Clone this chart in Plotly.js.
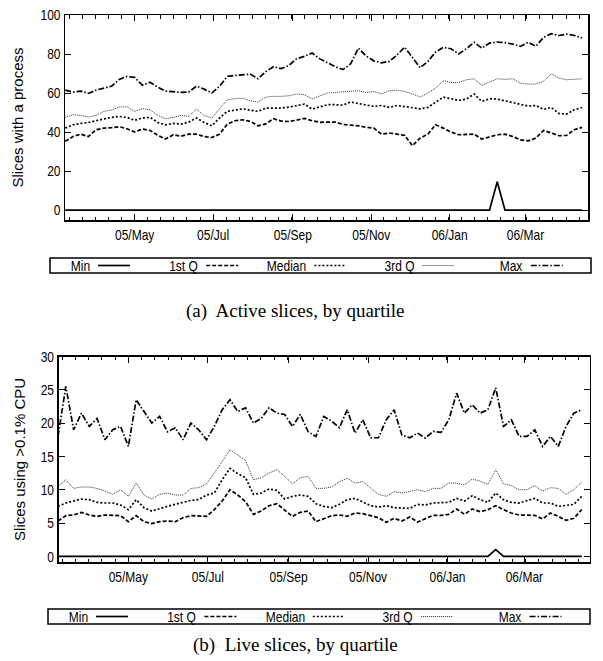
<!DOCTYPE html>
<html>
<head>
<meta charset="utf-8">
<script src="https://cdn.plot.ly/plotly-3.0.1.min.js"></script>
<style>
html,body{margin:0;padding:0;background:#fff;}
#chart{width:603px;height:661px;}
</style>
</head>
<body>
<div id="chart"></div>
<script>
// ---------- data ----------
const dates = ['2005-03-08','2005-03-14','2005-03-20','2005-03-26','2005-04-01','2005-04-07','2005-04-13','2005-04-19','2005-04-25','2005-05-01',
  '2005-05-07','2005-05-13','2005-05-19','2005-05-25','2005-05-31','2005-06-06','2005-06-12','2005-06-18','2005-06-24','2005-06-30',
  '2005-07-06','2005-07-12','2005-07-18','2005-07-24','2005-07-30','2005-08-05','2005-08-11','2005-08-17','2005-08-23','2005-08-29',
  '2005-09-04','2005-09-10','2005-09-16','2005-09-22','2005-09-28','2005-10-04','2005-10-10','2005-10-16','2005-10-22','2005-10-28',
  '2005-11-03','2005-11-09','2005-11-15','2005-11-21','2005-11-27','2005-12-03','2005-12-09','2005-12-15','2005-12-21','2005-12-27',
  '2006-01-02','2006-01-08','2006-01-14','2006-01-20','2006-01-26','2006-02-01','2006-02-07','2006-02-13','2006-02-19','2006-02-25',
  '2006-03-03','2006-03-09','2006-03-15','2006-03-21','2006-03-27','2006-04-02','2006-04-08','2006-04-14'];

const seriesNames = ['Min', '1st Q', 'Median', '3rd Q', 'Max'];

// (a) Active slices
const activeMin = [0,0,0,0,0,0,0,0,0,0, 0,0,0,0,0,0,0,0,0,0, 0,0,0,0,0,0,0,0,0,0, 0,0,0,0,0,0,0,0,0,0,
  0,0,0,0,0,0,0,0,0,0, 0,0,0,0,0,0,14.5,0,0,0, 0,0,0,0,0,0,0,0];
const activeQ1 = [35.2,37.7,38.9,37.7,41.2,42,42.2,42.7,41.7,40, 41.5,40.8,38.3,36.4,38.6,37.9,38.9,38.9,37.7,37.2,
  38.9,44,45.8,46.3,45.4,43.2,44.2,46.8,45.6,45.4, 46.1,47,45.8,45,45.1,45.1,43.9,43.6,43.2,42.4,
  42,38.9,39.5,38.9,38.3,33,36.9,38.9,43.7,42, 40,38.6,38.6,38.9,36.4,37.7,38.6,38.9,37.7,36,
  35.5,36.9,40.8,39.5,38.1,38.3,41.2,42.4];
const activeMedian = [42,43.7,44.4,44.9,45.8,46.8,47.5,48,47.5,46, 47.2,47.5,44.9,43.7,44.4,44.1,45.1,47.2,44.9,43.2,
  47.2,50.6,51.4,51.9,51.2,50.6,52.3,52.3,52.3,52.8, 53.5,54.3,51.8,53.1,54,54,53.8,55.4,54.7,54,
  53.1,53.6,52.6,53.6,53.1,52.6,51.9,52.6,55.4,57.9, 57.1,56.2,56.9,59.5,55.7,57.1,56.9,56,55,54.3,
  53.3,53.6,51.6,52.6,49.5,49.2,51.4,52.6];
const activeQ3 = [47.5,48.9,48.5,47.7,48.5,50.6,51.3,52.8,53,50.6, 52,51.4,48.5,46.8,47.5,48.5,48,51.8,48.5,47.1,
  52,56.5,57.1,57.4,56,55.4,57.9,58.3,58.3,58.6, 59.5,59.1,57,58.5,60,60.3,60.5,60.8,61.2,60.3,
  60.8,59.5,61.2,61.5,60.8,59.6,57.9,60,62.5,66.3, 65.4,65.4,66.8,67.3,63.9,65.6,67.3,67,67.3,65.1,
  64.6,64.6,66,69.9,67.7,66.8,67,67.3];
const activeMax = [61.5,60.5,61,59.8,61.5,62.5,63.5,67,68.5,68, 64,65.5,63,61,60.5,60.3,60.5,63.5,62,60,
  63.5,68.5,69,69.5,69.7,67.3,71,73.5,72.5,74.2, 77.6,78.8,80.5,77.5,75.4,73.5,72,75,83,79,
  76.5,75.5,76.2,79.5,83.5,78,73,76.2,81,83.4, 82.7,80,82.7,86,83,85.6,86.1,85.8,85.1,83.9,
  86,84,88.5,90.4,89.5,90.2,89.5,88.2];

// (b) Live slices
const liveMin = [0,0,0,0,0,0,0,0,0,0, 0,0,0,0,0,0,0,0,0,0, 0,0,0,0,0,0,0,0,0,0, 0,0,0,0,0,0,0,0,0,0,
  0,0,0,0,0,0,0,0,0,0, 0,0,0,0,0,0,1,0,0,0, 0,0,0,0,0,0,0,0];
const liveQ1 = [5.3,6.1,6.2,6.6,6.2,6,6.2,6.2,6.1,5.2, 6.1,5.2,4.9,5.2,5.3,5.2,5.8,6.1,6,6,
  7,8.3,10,9.2,8.2,6.3,6.8,7.6,7.9,7, 6,6.6,6.8,5.2,5.6,6.1,6.2,6,6.5,6.4,
  6.1,5.8,5.1,5.7,5.3,5.9,5.15,5.6,6.15,6.15, 6.3,7.1,6.3,7.1,6.7,7,7.6,7,6.5,6.2,
  6.15,6.15,5.6,6.5,6,5.4,5.7,7];
const liveMedian = [7.5,8,8.3,8.6,8.5,8.1,8,8,7.7,7, 8.5,7.3,6.8,7.2,7.5,7.8,8.1,8.4,8.5,9.2,
  9.5,11.5,13.2,12.4,11.8,9.3,9.5,10.1,9.9,8.6, 9,9.2,9,7.9,7.5,7.3,7.8,8.5,8.7,8.2,
  7.6,7.4,7.6,7.3,7.2,7.2,7.8,7.7,8,8, 8.1,8.7,8.3,9.1,8.5,8.1,9.5,8.5,8.1,8,
  8.3,8.7,8,8,7.5,7.6,7.8,9];
const liveQ3 = [10.5,11.5,10.2,10.4,10.4,10.2,9.8,9.3,10,9, 11,9.2,8.6,9.3,9.5,9.2,9.2,10.2,10.3,10.9,
  12.5,14.2,16,15.2,14.4,11.5,11.8,12.5,13,12, 10.9,11.8,12,10.2,10.2,10.4,11.2,11.7,11,11.2,
  10.2,9.3,9,9.7,9.5,9.8,10,9.7,10.2,10.2, 11,11,10.7,11.6,11.3,10.8,13,10.9,10.6,10,
  10,10.6,9.8,10.3,10.2,9.3,10,11.15];
const liveMax = [18,25.5,19,21.5,19.5,20.7,17.5,19,19.5,16.5, 23.5,21.7,20,21,18.7,19.3,17.5,20,19,17.5,
  19.5,22,23.5,21.75,22.3,20,20.7,22.3,21.5,21.3, 19.5,21.3,18.7,18,21,20.3,19.3,22,18.5,20.5,
  17.8,17.8,20.5,22,18.2,17.8,18.5,17.75,18.75,18.6, 20.5,24.5,21.5,22.75,21.5,22,25.3,19.5,20.5,18,
  18,19,16.5,18,16.5,19.5,21.5,22];

const activeSeries = [activeMin, activeQ1, activeMedian, activeQ3, activeMax];
const liveSeries = [liveMin, liveQ1, liveMedian, liveQ3, liveMax];

const yTitles = ['Slices with a process', 'Slices using >0.1% CPU'];
const captions = ['(a)\u00a0 Active slices, by quartile', '(b)\u00a0 Live slices, by quartile'];

// ---------- styles ----------
const W = 603, H = 661;
const lineStyles = [
  {color: '#000', width: 1.7, dash: 'solid'},
  {color: '#000', width: 1.7, dash: '4px,2px'},
  {color: '#000', width: 1.7, dash: '2px,2px'},
  {color: '#333', width: 1.0, dash: '1px,1px'},
  {color: '#000', width: 1.7, dash: '6px,2px,1.5px,2px'}
];
const sans = '"Liberation Sans", Arial, Helvetica, sans-serif';
const serif = '"Liberation Serif", "Times New Roman", serif';

const fx = p => p / W;
const fy = p => 1 - p / H;

const traces = [];
seriesNames.forEach((n, i) => {
  traces.push({x: dates, y: activeSeries[i], name: n, type: 'scatter', mode: 'lines',
    line: lineStyles[i], xaxis: 'x', yaxis: 'y', showlegend: false, hoverinfo: 'skip'});
});
seriesNames.forEach((n, i) => {
  traces.push({x: dates, y: liveSeries[i], name: n, type: 'scatter', mode: 'lines',
    line: lineStyles[i], xaxis: 'x2', yaxis: 'y2', showlegend: false, hoverinfo: 'skip'});
});

const minorStep = 61 / 6 * 86400000;
function xAxis(domain, range, anchor) {
  return {
    type: 'date', domain: domain, range: range, anchor: anchor,
    tick0: '2005-05-01', dtick: 'M2', tickformat: '%y/%b',
    ticks: 'inside', ticklen: 6, tickwidth: 1, tickcolor: '#000',
    showline: true, linecolor: '#000', linewidth: 1.5, mirror: 'ticks',
    showgrid: false, zeroline: false,
    tickfont: {family: sans, size: 15, color: '#000'},
    minor: {ticks: 'inside', ticklen: 3.5, tickwidth: 1, tickcolor: '#000', dtick: minorStep, tick0: '2005-05-01', showgrid: false}
  };
}
function yAxis(domain, range, dtick, anchor, title) {
  return {
    domain: domain, range: range, dtick: dtick, anchor: anchor,
    ticks: 'inside', ticklen: 6, tickwidth: 1, tickcolor: '#000',
    showline: true, linecolor: '#000', linewidth: 1.5, mirror: 'ticks',
    showgrid: false, zeroline: false,
    tickfont: {family: sans, size: 15, color: '#000'},
    title: {text: title, font: {family: sans, size: 15, color: '#000'}, standoff: 8}
  };
}

const shapes = [];
const annotations = [];
function addLegend(left, right, top, bottom) {
  shapes.push({type: 'rect', xref: 'paper', yref: 'paper', x0: fx(left), x1: fx(right), y0: fy(bottom), y1: fy(top),
    line: {color: '#000', width: 1.5}, fillcolor: 'rgba(0,0,0,0)'});
  const yc = (top + bottom) / 2;
  const col = (right - left) / 5;
  seriesNames.forEach((n, i) => {
    const s0 = left + 48 + col * i;
    shapes.push({type: 'line', xref: 'paper', yref: 'paper', x0: fx(s0), x1: fx(s0 + 32), y0: fy(yc), y1: fy(yc),
      line: {color: lineStyles[i].color, width: lineStyles[i].width, dash: lineStyles[i].dash}});
    annotations.push({xref: 'paper', yref: 'paper', x: fx(s0 - 6), y: fy(yc), xanchor: 'right', yanchor: 'middle',
      text: n, showarrow: false, font: {family: sans, size: 15, color: '#000'}});
  });
}
addLegend(50, 591, 258, 273);
addLegend(48, 590, 609, 624);

annotations.push({xref: 'paper', yref: 'paper', x: fx(295), y: fy(311), xanchor: 'center', yanchor: 'middle',
  text: captions[0], showarrow: false, font: {family: serif, size: 19, color: '#000'}});
annotations.push({xref: 'paper', yref: 'paper', x: fx(295), y: fy(645), xanchor: 'center', yanchor: 'middle',
  text: captions[1], showarrow: false, font: {family: serif, size: 19, color: '#000'}});

const layout = {
  width: W, height: H,
  margin: {l: 0, r: 0, t: 0, b: 0},
  paper_bgcolor: '#fff', plot_bgcolor: '#fff',
  showlegend: false,
  xaxis: xAxis([fx(65), fx(588)], ['2005-03-07 19:00', '2006-04-18 14:00'], 'y'),
  yaxis: yAxis([fy(220), fy(15)], [-5.1, 100], 20, 'x', yTitles[0]),
  xaxis2: xAxis([fx(58.5), fx(589.5)], ['2005-03-08 09:00', '2006-04-20 00:00'], 'y2'),
  yaxis2: yAxis([fy(562.3), fy(356.5)], [-0.9, 30], 5, 'x2', yTitles[1]),
  shapes: shapes,
  annotations: annotations
};

// The original figure's sans-serif text is horizontally condensed; squeeze the
// glyphs of tick labels and legend labels to match.
function condense(el, factor, keepRight) {
  const w = el.getComputedTextLength();
  if (w > 0) {
    el.setAttribute('textLength', (w * factor).toFixed(2));
    el.setAttribute('lengthAdjust', 'spacingAndGlyphs');
    if (keepRight) {
      const x = parseFloat(el.getAttribute('x') || '0');
      el.setAttribute('x', (x + w * (1 - factor) / 2).toFixed(2));
    }
  }
}
Plotly.newPlot('chart', traces, layout, {staticPlot: true, displayModeBar: false}).then(gd => {
  gd.querySelectorAll('.xtick text, .ytick text, .x2tick text, .y2tick text').forEach(el => condense(el, 0.8, false));
  gd.querySelectorAll('.annotation-text').forEach(el => {
    if (seriesNames.indexOf(el.textContent) >= 0) condense(el, 0.8, true);
  });
});
</script>
</body>
</html>
